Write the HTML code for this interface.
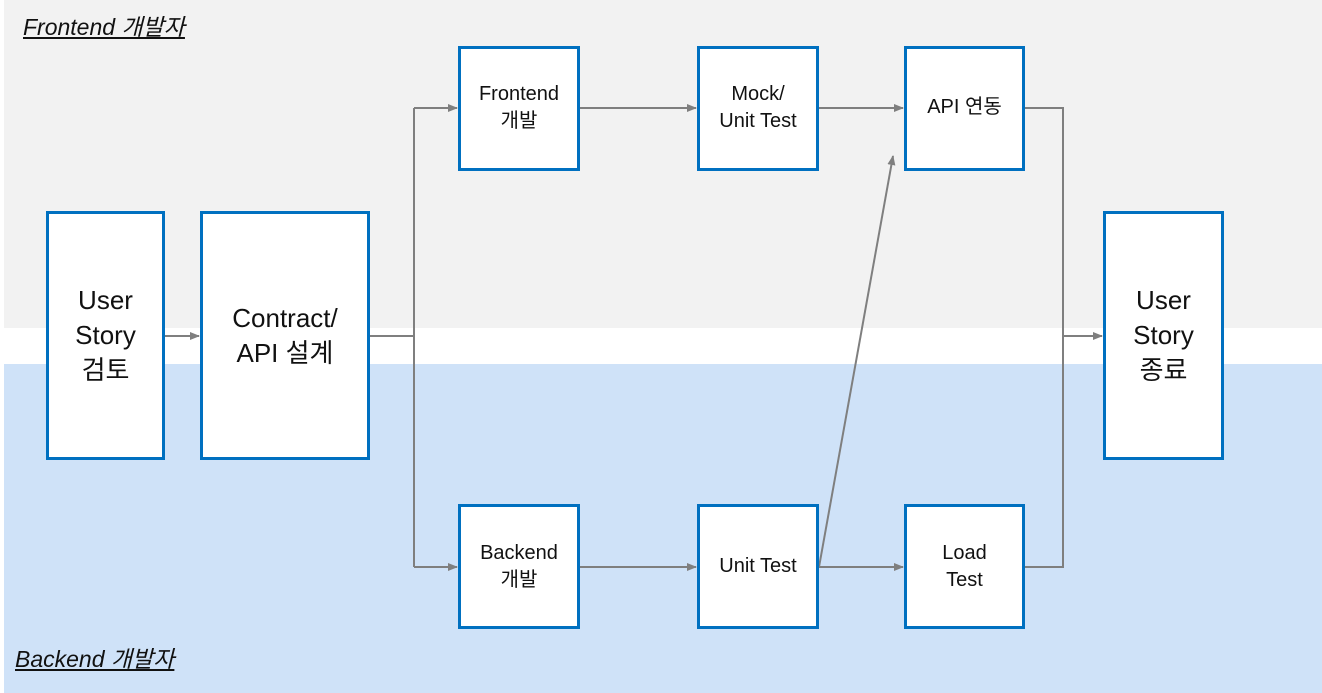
<!DOCTYPE html>
<html><head><meta charset="utf-8"><style>
body{margin:0;width:1322px;height:693px;overflow:hidden;background:#fff;font-family:"Liberation Sans","Noto Sans CJK KR",sans-serif;position:relative}
.band{position:absolute;left:4px;right:0}
.b{position:absolute;box-sizing:border-box;border:3px solid #0070c0;background:#fff;display:flex;align-items:center;justify-content:center;text-align:center;color:#111}
.big{font-size:26px;line-height:35px}
.sm{font-size:20px;line-height:27px}
.lab{position:absolute;font-style:italic;text-decoration:underline;font-size:23px;color:#111}
</style></head><body>
<div class="band" style="top:0;height:328px;background:#f2f2f2"></div>
<div class="band" style="top:364px;height:329px;background:#cfe2f8"></div>
<div class="lab" style="left:23px;top:8px">Frontend 개발자</div>
<div class="lab" style="left:15px;top:640px">Backend 개발자</div>
<svg width="1322" height="693" style="position:absolute;left:0;top:0">
<defs><marker id="a" markerWidth="10" markerHeight="10" refX="9" refY="5" orient="auto" markerUnits="userSpaceOnUse"><path d="M0,1 L10,5 L0,9 Z" fill="#7f7f7f"/></marker></defs>
<g stroke="#7f7f7f" stroke-width="2" fill="none">
<line x1="165" y1="336" x2="199" y2="336" marker-end="url(#a)"/>
<polyline points="370,336 414,336"/>
<line x1="414" y1="108" x2="414" y2="567"/>
<line x1="414" y1="108" x2="457" y2="108" marker-end="url(#a)"/>
<line x1="414" y1="567" x2="457" y2="567" marker-end="url(#a)"/>
<line x1="580" y1="108" x2="696" y2="108" marker-end="url(#a)"/>
<line x1="819" y1="108" x2="903" y2="108" marker-end="url(#a)"/>
<line x1="580" y1="567" x2="696" y2="567" marker-end="url(#a)"/>
<line x1="819" y1="567" x2="903" y2="567" marker-end="url(#a)"/>
<line x1="819" y1="567" x2="893" y2="156" marker-end="url(#a)"/>
<polyline points="1025,108 1063,108 1063,567 1025,567"/>
<line x1="1063" y1="336" x2="1102" y2="336" marker-end="url(#a)"/>
</g></svg>
<div class="b big" style="left:46px;top:211px;width:119px;height:249px">User<br>Story<br>검토</div>
<div class="b big" style="left:200px;top:211px;width:170px;height:249px">Contract/<br>API 설계</div>
<div class="b sm" style="left:458px;top:46px;width:122px;height:125px;padding-bottom:2px">Frontend<br>개발</div>
<div class="b sm" style="left:697px;top:46px;width:122px;height:125px;padding-bottom:2px">Mock/<br>Unit Test</div>
<div class="b sm" style="left:904px;top:46px;width:121px;height:125px;padding-bottom:2px">API 연동</div>
<div class="b sm" style="left:458px;top:504px;width:122px;height:125px">Backend<br>개발</div>
<div class="b sm" style="left:697px;top:504px;width:122px;height:125px">Unit Test</div>
<div class="b sm" style="left:904px;top:504px;width:121px;height:125px">Load<br>Test</div>
<div class="b big" style="left:1103px;top:211px;width:121px;height:249px">User<br>Story<br>종료</div>
</body></html>
